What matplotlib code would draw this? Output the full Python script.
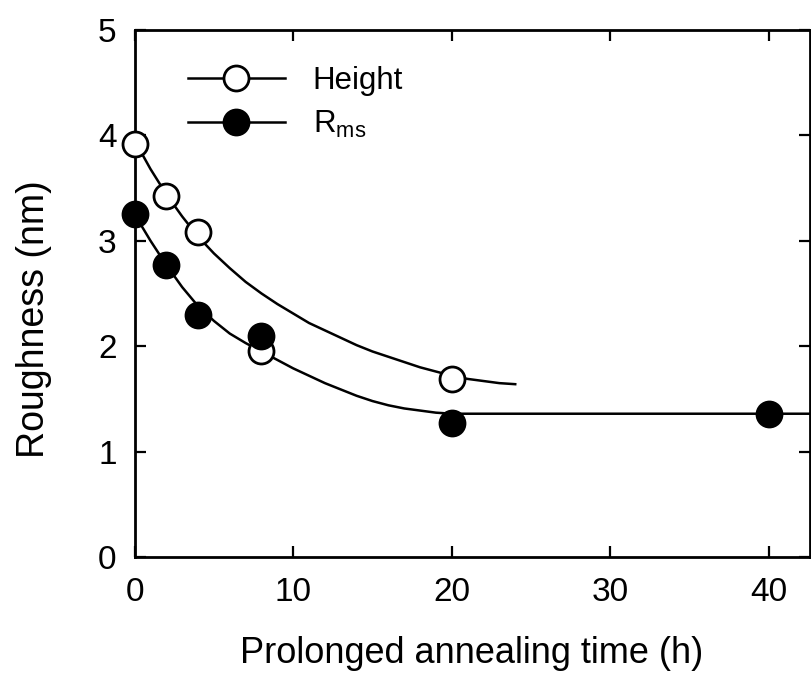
import numpy as np
import matplotlib.pyplot as plt
from matplotlib.lines import Line2D

plt.rcParams['font.family'] = ['Liberation Sans', 'DejaVu Sans']
plt.rcParams['mathtext.fontset'] = 'custom'
plt.rcParams['mathtext.rm'] = 'Liberation Sans'
plt.rcParams['mathtext.it'] = 'Liberation Sans'

# measured points
time_height = [0, 2, 4, 8, 20]
height = [3.92, 3.42, 3.08, 1.95, 1.69]
time_rms = [0, 2, 4, 8, 20, 40]
rms = [3.25, 2.77, 2.30, 2.10, 1.27, 1.36]

# fitted curves
fit_height_x = list(range(0, 25))
fit_height_y = [3.95, 3.68, 3.44, 3.23, 3.04, 2.88, 2.74, 2.61, 2.50, 2.40, 2.31, 2.22,
                2.15, 2.08, 2.01, 1.95, 1.90, 1.85, 1.80, 1.76, 1.72, 1.69, 1.67, 1.65, 1.64]
fit_rms_x = list(range(0, 21)) + [22, 43]
fit_rms_y = [3.25, 3.00, 2.77, 2.56, 2.38, 2.24, 2.12, 2.03, 1.95, 1.87, 1.79, 1.72,
             1.65, 1.59, 1.53, 1.48, 1.44, 1.41, 1.39, 1.37, 1.36, 1.36, 1.36]

fig = plt.figure(figsize=(8.11, 6.77), dpi=100)
ax = fig.add_axes([0.166, 0.177, 0.833, 0.779])

ax.plot(fit_height_x, fit_height_y, color='black', lw=1.8, zorder=2)
ax.plot(fit_rms_x, fit_rms_y, color='black', lw=1.8, zorder=2)
ax.plot(time_height, height, 'o', ms=18, mfc='white', mec='black', mew=2, zorder=3, clip_on=False)
ax.plot(time_rms, rms, 'o', ms=18, mfc='black', mec='black', mew=2, zorder=3, clip_on=False)

handles = [
    Line2D([], [], color='black', lw=1.8, marker='o', ms=18, mfc='white', mec='black', mew=2),
    Line2D([], [], color='black', lw=1.8, marker='o', ms=18, mfc='black', mec='black', mew=2),
]
ax.legend(handles, ['Height', r'R$_{\rm ms}$'], loc='upper left', bbox_to_anchor=(0.037, 0.985),
          frameon=False, fontsize=22.5, handlelength=3.1, handletextpad=0.9, labelspacing=0.42)

ax.set_xlim(0, 42.6)
ax.set_ylim(0, 5)
ax.set_xticks([0, 10, 20, 30, 40])
ax.set_yticks([0, 1, 2, 3, 4, 5])
ax.tick_params(direction='in', top=True, right=True, length=8, width=1.6, labelsize=24)
ax.tick_params(axis='x', pad=14)
ax.tick_params(axis='y', pad=13)
for s in ax.spines.values():
    s.set_linewidth(2)

ax.set_xlabel('Prolonged annealing time (h)', fontsize=26)
ax.set_ylabel('Roughness (nm)', fontsize=27)
ax.xaxis.set_label_coords(0.499, -0.150)
ax.yaxis.set_label_coords(-0.122, 0.452)

plt.savefig('out.png', dpi=100)
